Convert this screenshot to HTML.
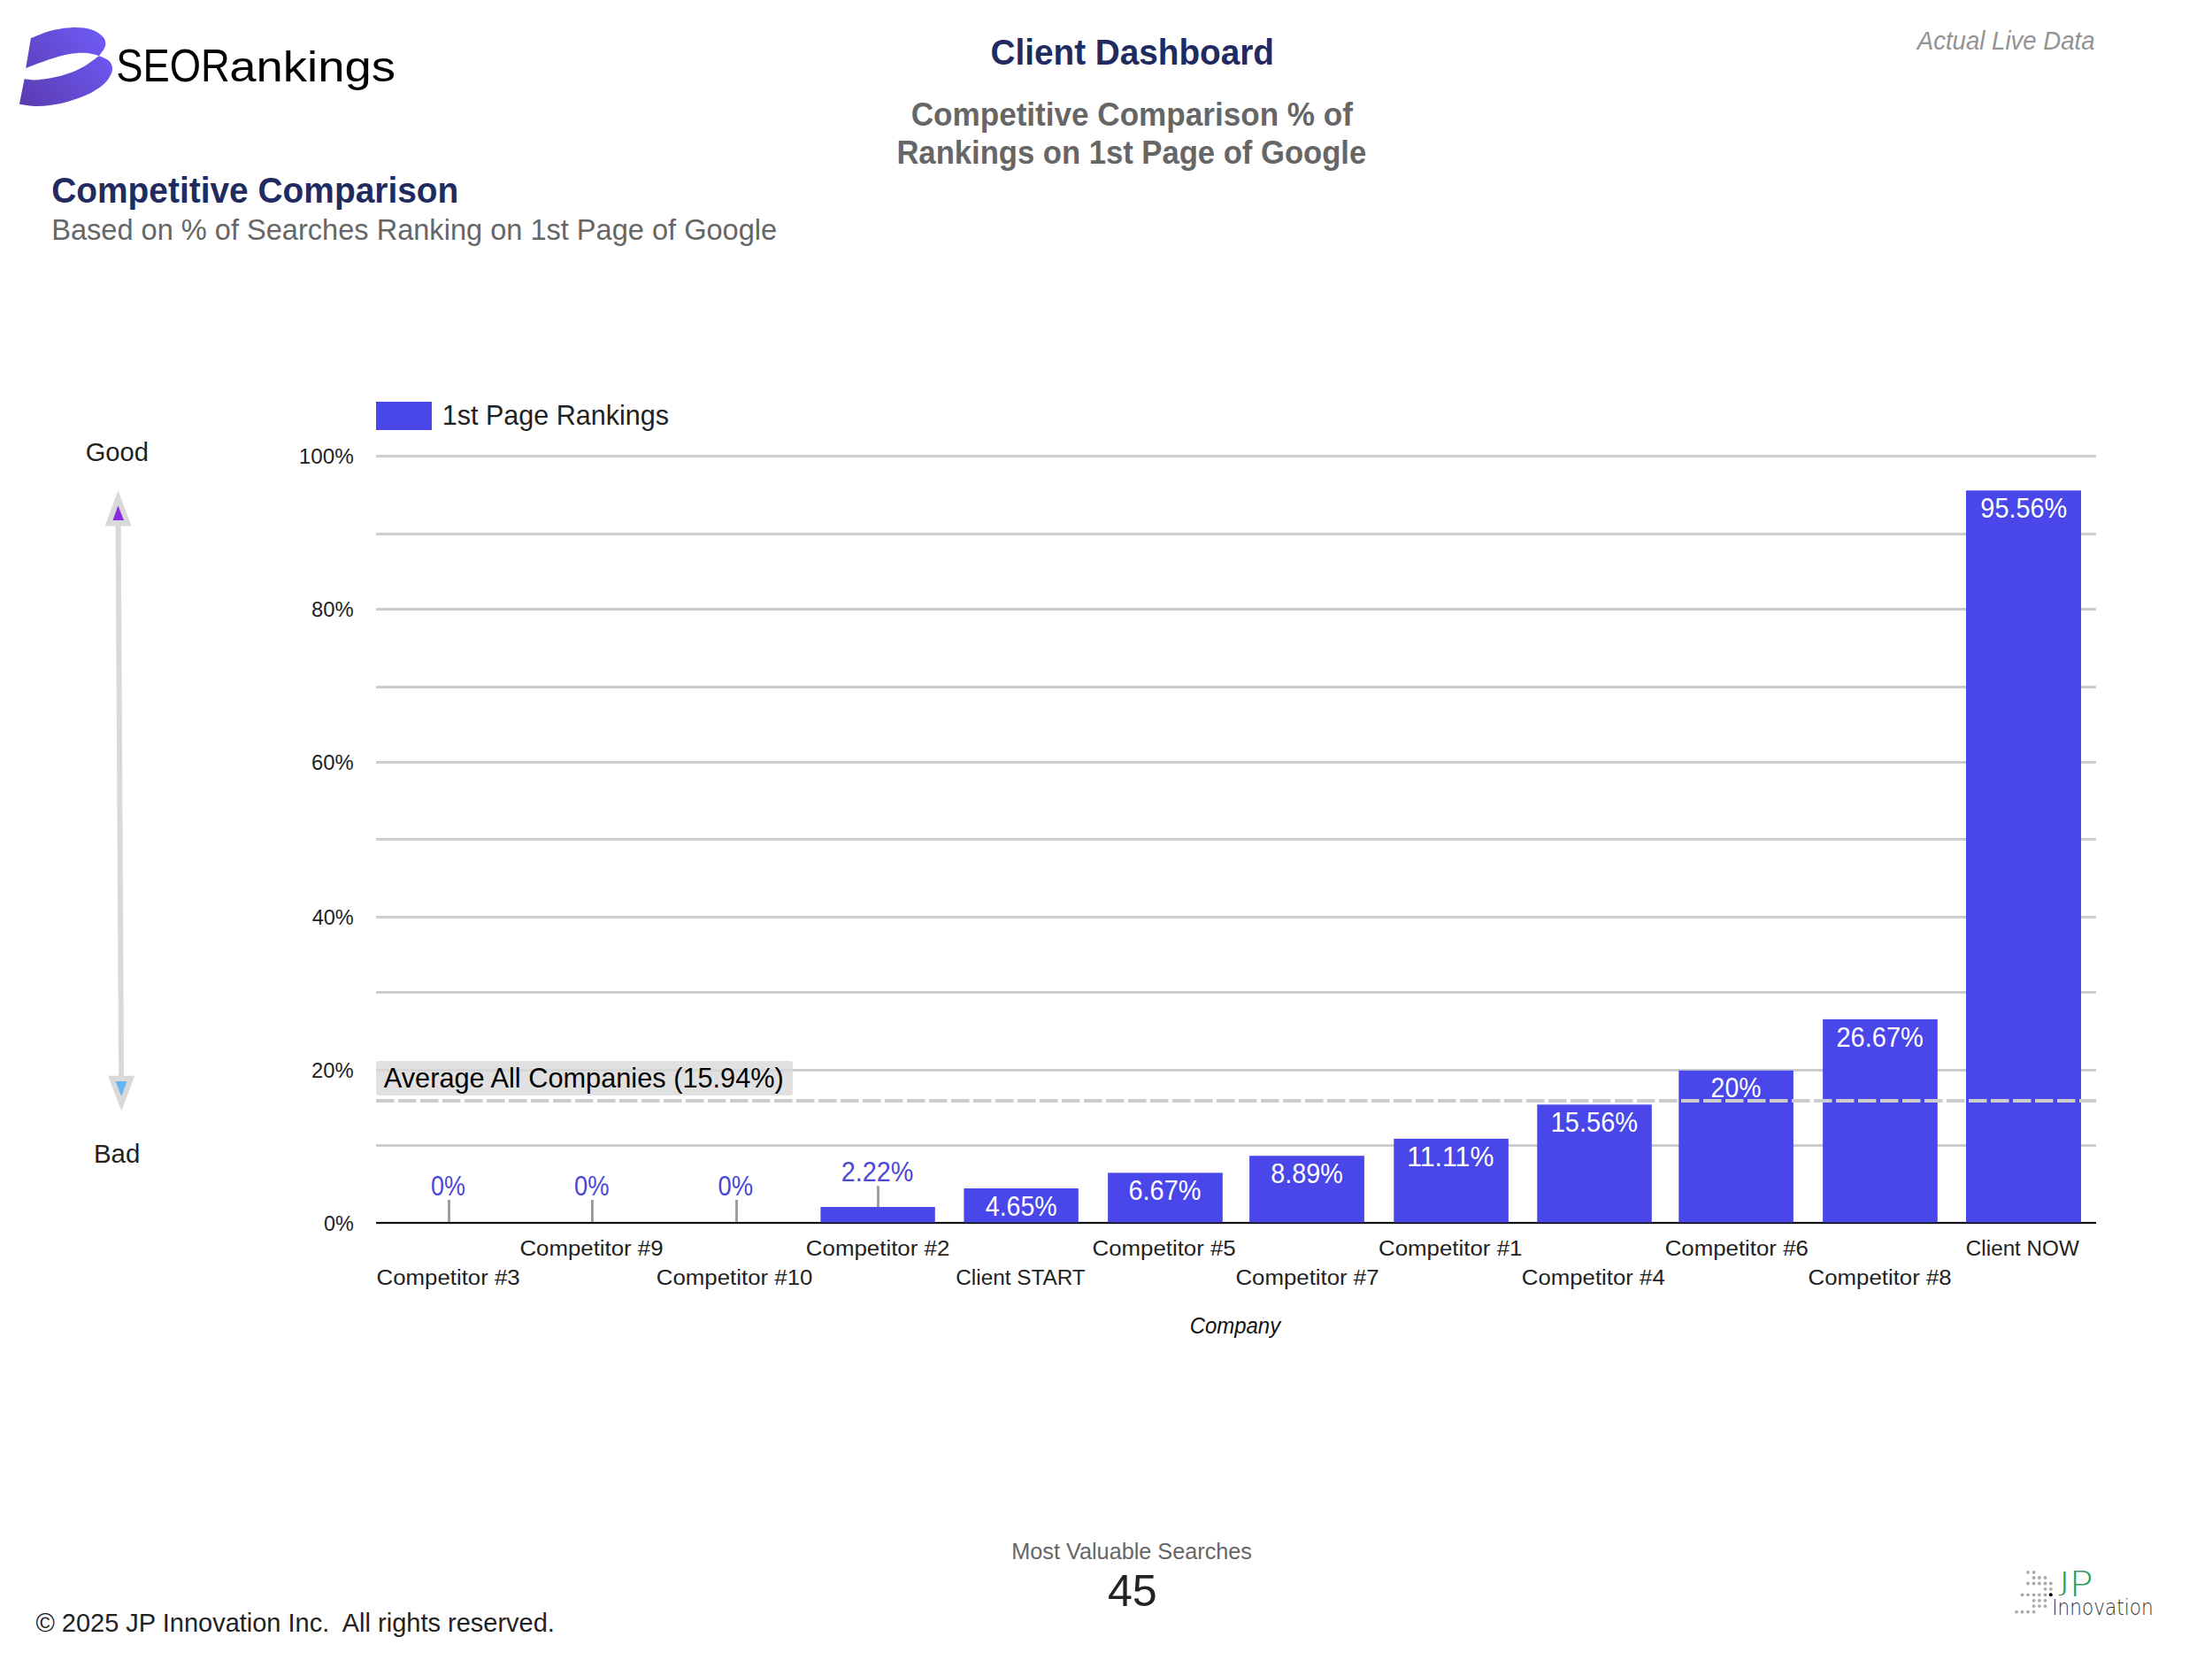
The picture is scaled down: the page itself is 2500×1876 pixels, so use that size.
<!DOCTYPE html>
<html lang="en"><head><meta charset="utf-8"><title>Client Dashboard - Competitive Comparison</title>
<style>
html,body{margin:0;padding:0;background:#fff;}
body{width:2500px;height:1876px;overflow:hidden;}
svg{display:block;font-family:'Liberation Sans', sans-serif;}
text{white-space:pre;}
</style></head><body>
<svg width="2500" height="1876" viewBox="0 0 2500 1876">
<rect width="2500" height="1876" fill="#fff"/>
<defs><linearGradient id="lg" gradientUnits="userSpaceOnUse" x1="22" y1="118" x2="122" y2="40"><stop offset="0" stop-color="#5a3bb0"/><stop offset="1" stop-color="#6f5bf7"/></linearGradient></defs>
<path d="M34.85 43.19 C38.44 41.81 48.38 36.95 56.38 34.91 C64.39 32.87 75.15 31.21 82.88 30.93 C90.61 30.65 97.24 31.54 102.76 33.25 C108.28 34.96 113.25 38.55 116.01 41.20 C118.77 43.85 119.10 46.72 119.32 49.15 C119.54 51.58 118.55 53.46 117.33 55.78 C116.11 58.10 112.91 61.86 112.03 63.07 C109.38 62.52 102.09 60.03 96.13 59.75 C90.17 59.47 82.89 60.19 76.26 61.41 C69.64 62.62 64.22 64.45 56.38 67.04 C48.54 69.64 33.74 75.32 29.21 76.98 Z" fill="url(#lg)"/>
<path d="M112.03 63.07 C113.80 63.95 120.14 66.16 122.63 68.37 C125.11 70.58 126.61 73.45 126.94 76.32 C127.27 79.19 126.44 82.28 124.62 85.59 C122.80 88.90 120.76 92.44 116.01 96.19 C111.26 99.94 103.86 104.70 96.13 108.12 C88.40 111.54 78.46 114.74 69.63 116.73 C60.80 118.72 51.08 119.88 43.13 120.05 C35.18 120.22 25.46 118.12 21.93 117.73 L27.56 89.24 C30.16 89.41 36.12 90.84 43.13 90.23 C50.14 89.62 61.35 87.91 69.63 85.59 C77.91 83.27 85.75 80.07 92.82 76.32 C99.89 72.57 108.83 65.28 112.03 63.07 Z" fill="url(#lg)"/>
<text><tspan id="logoA" x="131.21" y="91.70" font-size="52.5" fill="#000" textLength="128.66" lengthAdjust="spacingAndGlyphs">SEOR</tspan><tspan id="logoB" x="259.19" y="91.70" font-size="47.5" fill="#000" textLength="187.85" lengthAdjust="spacingAndGlyphs">ankings</tspan></text>
<text id="h1" x="1119.47" y="72.50" font-size="41.3" fill="#1f2b61" textLength="320.55" lengthAdjust="spacingAndGlyphs" font-weight="bold">Client Dashboard</text>
<text id="s1" x="1029.70" y="141.60" font-size="36.2" fill="#666" textLength="499.25" lengthAdjust="spacingAndGlyphs" font-weight="bold">Competitive Comparison % of</text>
<text id="s2" x="1013.39" y="185.00" font-size="36.2" fill="#666" textLength="530.87" lengthAdjust="spacingAndGlyphs" font-weight="bold">Rankings on 1st Page of Google</text>
<text id="live" x="2166.74" y="55.90" font-size="29" fill="#939393" textLength="200.85" lengthAdjust="spacingAndGlyphs" font-style="italic">Actual Live Data</text>
<text id="h2" x="58.24" y="228.80" font-size="41.3" fill="#1f2b61" textLength="460.09" lengthAdjust="spacingAndGlyphs" font-weight="bold">Competitive Comparison</text>
<text id="h3" x="58.24" y="270.50" font-size="32.5" fill="#666" textLength="819.91" lengthAdjust="spacingAndGlyphs">Based on % of Searches Ranking on 1st Page of Google</text>
<rect x="425" y="514" width="1944" height="3" fill="#ccc"/>
<rect x="425" y="602" width="1944" height="3" fill="#ccc"/>
<rect x="425" y="687" width="1944" height="3" fill="#ccc"/>
<rect x="425" y="775" width="1944" height="3" fill="#ccc"/>
<rect x="425" y="860" width="1944" height="3" fill="#ccc"/>
<rect x="425" y="947" width="1944" height="3" fill="#ccc"/>
<rect x="425" y="1035" width="1944" height="3" fill="#ccc"/>
<rect x="425" y="1120" width="1944" height="3" fill="#ccc"/>
<rect x="425" y="1208" width="1944" height="3" fill="#ccc"/>
<rect x="425" y="1293" width="1944" height="3" fill="#ccc"/>
<rect x="425" y="1380.9" width="1944" height="2.2" fill="#111"/>
<text id="y0" x="337.76" y="524.20" font-size="24.4" fill="#222" textLength="62.00" lengthAdjust="spacingAndGlyphs">100%</text>
<text id="y2" x="352.11" y="697.20" font-size="24.4" fill="#222" textLength="47.70" lengthAdjust="spacingAndGlyphs">80%</text>
<text id="y4" x="352.11" y="870.20" font-size="24.4" fill="#222" textLength="47.70" lengthAdjust="spacingAndGlyphs">60%</text>
<text id="y6" x="352.64" y="1045.20" font-size="24.4" fill="#222" textLength="47.16" lengthAdjust="spacingAndGlyphs">40%</text>
<text id="y8" x="352.11" y="1218.20" font-size="24.4" fill="#222" textLength="47.70" lengthAdjust="spacingAndGlyphs">20%</text>
<text id="y10" x="366.01" y="1390.70" font-size="24.4" fill="#222" textLength="33.77" lengthAdjust="spacingAndGlyphs">0%</text>
<rect x="927.4" y="1364.0" width="129.4" height="17.4" fill="#4947e9"/>
<rect x="1089.4" y="1343.0" width="129.4" height="38.4" fill="#4947e9"/>
<rect x="1252.1" y="1325.4" width="129.7" height="56.0" fill="#4947e9"/>
<rect x="1412.1" y="1306.2" width="129.8" height="75.2" fill="#4947e9"/>
<rect x="1575.3" y="1286.9" width="129.6" height="94.5" fill="#4947e9"/>
<rect x="1737.3" y="1248.3" width="129.5" height="133.1" fill="#4947e9"/>
<rect x="1897.3" y="1209.8" width="129.6" height="171.6" fill="#4947e9"/>
<rect x="2060.1" y="1151.9" width="129.7" height="229.5" fill="#4947e9"/>
<rect x="2222.0" y="554.3" width="130.0" height="827.1" fill="#4947e9"/>
<rect x="506.1" y="1356" width="2.8" height="25" fill="#999"/>
<rect x="668.0" y="1356" width="2.8" height="25" fill="#999"/>
<rect x="831.1" y="1356" width="2.8" height="25" fill="#999"/>
<rect x="991.1" y="1340.3" width="2.8" height="23.8" fill="#999"/>
<rect x="425" y="1199" width="471" height="39" rx="3" fill="#d9d9d9" fill-opacity="0.8"/>
<line x1="425" y1="1244" x2="2369" y2="1244" stroke="#ccc" stroke-width="4" stroke-dasharray="20.5 4.5"/>
<text id="avg" x="433.80" y="1228.60" font-size="31.1" fill="#000" textLength="452.05" lengthAdjust="spacingAndGlyphs">Average All Companies (15.94%)</text>
<rect x="425" y="454" width="63" height="32" fill="#4947e9"/>
<text id="leg" x="499.68" y="480.40" font-size="30.5" fill="#222" textLength="256.35" lengthAdjust="spacingAndGlyphs">1st Page Rankings</text>
<text id="d0" x="486.96" y="1351.40" font-size="31.6" fill="#4a48d6" textLength="38.93" lengthAdjust="spacingAndGlyphs">0%</text>
<text id="d1" x="649.09" y="1351.40" font-size="31.6" fill="#4a48d6" textLength="39.46" lengthAdjust="spacingAndGlyphs">0%</text>
<text id="d2" x="811.44" y="1351.40" font-size="31.6" fill="#4a48d6" textLength="39.62" lengthAdjust="spacingAndGlyphs">0%</text>
<text id="d3" x="950.80" y="1334.60" font-size="31.6" fill="#4a48d6" textLength="81.55" lengthAdjust="spacingAndGlyphs">2.22%</text>
<text id="d4" x="1113.80" y="1373.56" font-size="31.6" fill="#fff" textLength="80.92" lengthAdjust="spacingAndGlyphs">4.65%</text>
<text id="d5" x="1275.48" y="1356.04" font-size="31.6" fill="#fff" textLength="81.95" lengthAdjust="spacingAndGlyphs">6.67%</text>
<text id="d6" x="1436.24" y="1336.78" font-size="31.6" fill="#fff" textLength="81.50" lengthAdjust="spacingAndGlyphs">8.89%</text>
<text id="d7" x="1590.14" y="1317.52" font-size="31.6" fill="#fff" textLength="98.24" lengthAdjust="spacingAndGlyphs">11.11%</text>
<text id="d8" x="1752.72" y="1278.92" font-size="31.6" fill="#fff" textLength="98.40" lengthAdjust="spacingAndGlyphs">15.56%</text>
<text id="d9" x="1933.62" y="1240.40" font-size="31.6" fill="#fff" textLength="56.77" lengthAdjust="spacingAndGlyphs">20%</text>
<text id="d10" x="2075.47" y="1182.54" font-size="31.6" fill="#fff" textLength="98.36" lengthAdjust="spacingAndGlyphs">26.67%</text>
<text id="d11" x="2238.36" y="584.92" font-size="31.6" fill="#fff" textLength="97.86" lengthAdjust="spacingAndGlyphs">95.56%</text>
<text id="x0" x="425.57" y="1452.10" font-size="24.7" fill="#222" textLength="162.16" lengthAdjust="spacingAndGlyphs">Competitor #3</text>
<text id="x1" x="587.42" y="1418.80" font-size="24.7" fill="#222" textLength="162.16" lengthAdjust="spacingAndGlyphs">Competitor #9</text>
<text id="x2" x="741.74" y="1452.10" font-size="24.7" fill="#222" textLength="176.74" lengthAdjust="spacingAndGlyphs">Competitor #10</text>
<text id="x3" x="910.86" y="1418.80" font-size="24.7" fill="#222" textLength="162.41" lengthAdjust="spacingAndGlyphs">Competitor #2</text>
<text id="x4" x="1080.31" y="1452.10" font-size="24.7" fill="#222" textLength="146.44" lengthAdjust="spacingAndGlyphs">Client START</text>
<text id="x5" x="1234.57" y="1418.80" font-size="24.7" fill="#222" textLength="162.14" lengthAdjust="spacingAndGlyphs">Competitor #5</text>
<text id="x6" x="1396.42" y="1452.10" font-size="24.7" fill="#222" textLength="162.17" lengthAdjust="spacingAndGlyphs">Competitor #7</text>
<text id="x7" x="1558.01" y="1418.80" font-size="24.7" fill="#222" textLength="162.41" lengthAdjust="spacingAndGlyphs">Competitor #1</text>
<text id="x8" x="1719.87" y="1452.10" font-size="24.7" fill="#222" textLength="161.90" lengthAdjust="spacingAndGlyphs">Competitor #4</text>
<text id="x9" x="1881.72" y="1418.80" font-size="24.7" fill="#222" textLength="162.14" lengthAdjust="spacingAndGlyphs">Competitor #6</text>
<text id="x10" x="2043.57" y="1452.10" font-size="24.7" fill="#222" textLength="162.14" lengthAdjust="spacingAndGlyphs">Competitor #8</text>
<text id="x11" x="2221.87" y="1418.80" font-size="24.7" fill="#222" textLength="127.99" lengthAdjust="spacingAndGlyphs">Client NOW</text>
<text id="comp" x="1344.70" y="1506.60" font-size="25" fill="#111" textLength="102.42" lengthAdjust="spacingAndGlyphs" font-style="italic">Company</text>
<text id="good" x="96.64" y="520.70" font-size="29.2" fill="#222" textLength="71.19" lengthAdjust="spacingAndGlyphs">Good</text>
<text id="bad" x="105.95" y="1314.40" font-size="29.2" fill="#222" textLength="52.36" lengthAdjust="spacingAndGlyphs">Bad</text>
<line x1="133.6" y1="592" x2="137.1" y2="1218" stroke="#d9d9d9" stroke-width="6"/>
<polygon points="133.4,554.2 118.6,594.5 148.7,594.5" fill="#d9d9d9"/>
<polygon points="133.4,571.5 127.5,587.9 140,587.9" fill="#8a2be2"/>
<polygon points="137.3,1255.8 122.2,1215.7 152.1,1215.7" fill="#d9d9d9"/>
<polygon points="137.3,1238.9 130.6,1221.9 143.4,1221.9" fill="#64b5f6"/>
<text id="copy" x="40.40" y="1843.50" font-size="29" fill="#222" textLength="586.46" lengthAdjust="spacingAndGlyphs" xml:space="preserve">© 2025 JP Innovation Inc.  All rights reserved.</text>
<text id="mvs" x="1143.32" y="1762.20" font-size="25" fill="#666" textLength="271.64" lengthAdjust="spacingAndGlyphs">Most Valuable Searches</text>
<text id="kpi" x="1251.90" y="1814.80" font-size="50" fill="#222" textLength="55.79" lengthAdjust="spacingAndGlyphs">45</text>
<circle cx="2292.0" cy="1776.9" r="1.9" fill="#aaa"/>
<circle cx="2298.6" cy="1776.9" r="1.9" fill="#aaa"/>
<circle cx="2298.6" cy="1783.0" r="1.9" fill="#aaa"/>
<circle cx="2304.9" cy="1783.0" r="1.9" fill="#aaa"/>
<circle cx="2311.5" cy="1783.0" r="1.9" fill="#aaa"/>
<circle cx="2292.0" cy="1789.5" r="1.9" fill="#aaa"/>
<circle cx="2298.6" cy="1789.5" r="1.9" fill="#aaa"/>
<circle cx="2304.9" cy="1789.5" r="1.9" fill="#aaa"/>
<circle cx="2311.5" cy="1789.5" r="1.9" fill="#aaa"/>
<circle cx="2317.8" cy="1789.5" r="1.9" fill="#aaa"/>
<circle cx="2311.5" cy="1795.8" r="1.9" fill="#aaa"/>
<circle cx="2317.8" cy="1795.8" r="1.9" fill="#aaa"/>
<circle cx="2285.5" cy="1802.3" r="1.9" fill="#aaa"/>
<circle cx="2292.0" cy="1802.3" r="1.9" fill="#aaa"/>
<circle cx="2298.6" cy="1802.3" r="1.9" fill="#aaa"/>
<circle cx="2304.9" cy="1802.3" r="1.9" fill="#aaa"/>
<circle cx="2311.5" cy="1802.3" r="1.9" fill="#aaa"/>
<circle cx="2298.6" cy="1808.8" r="1.9" fill="#aaa"/>
<circle cx="2304.9" cy="1808.8" r="1.9" fill="#aaa"/>
<circle cx="2311.5" cy="1808.8" r="1.9" fill="#aaa"/>
<circle cx="2298.6" cy="1815.1" r="1.9" fill="#aaa"/>
<circle cx="2304.9" cy="1815.1" r="1.9" fill="#aaa"/>
<circle cx="2311.5" cy="1815.1" r="1.9" fill="#aaa"/>
<circle cx="2279.1" cy="1821.7" r="1.9" fill="#aaa"/>
<circle cx="2285.5" cy="1821.7" r="1.9" fill="#aaa"/>
<circle cx="2292.0" cy="1821.7" r="1.9" fill="#aaa"/>
<circle cx="2298.6" cy="1821.7" r="1.9" fill="#aaa"/>
<circle cx="2317.8" cy="1802.3" r="2" fill="#000"/>
<text font-family="'DejaVu Sans Light', 'DejaVu Sans', sans-serif" fill="#2f9e5e"><tspan x="2326.5" y="1798.3" font-size="30.9" textLength="13.73" lengthAdjust="spacingAndGlyphs">J</tspan><tspan x="2338.5" y="1803.8" font-size="38.4" textLength="27.3" lengthAdjust="spacingAndGlyphs">P</tspan></text>
<text id="inn" x="2319.19" y="1824.60" font-size="24.7" fill="#333" textLength="114.53" lengthAdjust="spacingAndGlyphs" font-family="'DejaVu Sans Light', 'DejaVu Sans', sans-serif">Innovation</text>
</svg>
</body></html>
